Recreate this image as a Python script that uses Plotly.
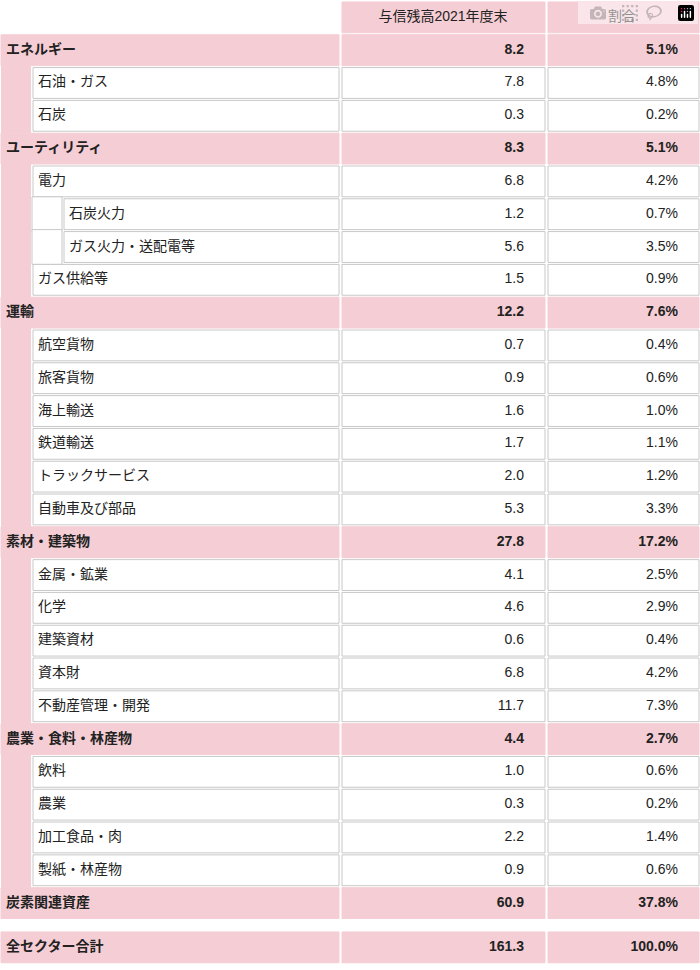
import plotly.graph_objects as go

# level 0 = sector (pink row), 1 = sub, 2 = sub-sub
labels = ["エネルギー", "石油・ガス", "石炭", "ユーティリティ", "電力", "石炭火力", "ガス火力・送配電等",
          "ガス供給等", "運輸", "航空貨物", "旅客貨物", "海上輸送", "鉄道輸送", "トラックサービス",
          "自動車及び部品", "素材・建築物", "金属・鉱業", "化学", "建築資材", "資本財", "不動産管理・開発",
          "農業・食料・林産物", "飲料", "農業", "加工食品・肉", "製紙・林産物", "炭素関連資産", "全セクター合計"]
levels = [0, 1, 1, 0, 1, 2, 2, 1, 0, 1, 1, 1, 1, 1, 1, 0, 1, 1, 1, 1, 1, 0, 1, 1, 1, 1, 0, 0]
amounts = [8.2, 7.8, 0.3, 8.3, 6.8, 1.2, 5.6, 1.5, 12.2, 0.7, 0.9, 1.6, 1.7, 2.0, 5.3, 27.8,
           4.1, 4.6, 0.6, 6.8, 11.7, 4.4, 1.0, 0.3, 2.2, 0.9, 60.9, 161.3]
shares = [5.1, 4.8, 0.2, 5.1, 4.2, 0.7, 3.5, 0.9, 7.6, 0.4, 0.6, 1.0, 1.1, 1.2, 3.3, 17.2,
          2.5, 2.9, 0.4, 4.2, 7.3, 2.7, 0.6, 0.2, 1.4, 0.6, 37.8, 100.0]
headers = ["与信残高2021年度末", "割合"]

PINK = "#f5cdd4"
GRID = "#c8c8c8"
ys = [i + 1 for i in range(len(labels) - 1)] + [28.35]

fig = go.Figure()
shapes = []

def cell(x0, x1, y, fill, line):
    shapes.append(dict(type="rect", x0=x0, x1=x1, y0=y - 0.47, y1=y + 0.47,
                       fillcolor=fill, line=dict(color=line, width=1), layer="below"))

# header
cell(342, 545, 0, PINK, PINK)
cell(548, 699, 0, PINK, PINK)

for lv, y in zip(levels, ys):
    if lv == 0:
        for x0, x1 in [(1, 339), (342, 545), (548, 699)]:
            cell(x0, x1, y, PINK, PINK)
    else:
        shapes.append(dict(type="rect", x0=1, x1=31, y0=y - 0.53, y1=y + 0.53,
                           fillcolor=PINK, line=dict(width=0), layer="below"))
        if lv == 2:
            shapes.append(dict(type="rect", x0=32, x1=62, y0=y - 0.53, y1=y + 0.53,
                               fillcolor="white", line=dict(color=GRID, width=1), layer="below"))
        x0 = 33 if lv == 1 else 64
        for a, b in [(x0, 339), (342, 545), (548, 699)]:
            cell(a, b, y, "white", GRID)

def fmt(s, lv):
    return f"<b>{s}</b>" if lv == 0 else s

label_x = [6 if lv == 0 else (38 if lv == 1 else 69) for lv in levels]
font = dict(family="Liberation Sans, Noto Sans CJK JP, sans-serif", size=14, color="#222")

fig.add_trace(go.Scatter(x=label_x, y=ys, mode="text", text=[fmt(l, lv) for l, lv in zip(labels, levels)],
                         textposition="middle right", textfont=font, hoverinfo="skip"))
fig.add_trace(go.Scatter(x=[524] * len(amounts), y=ys, mode="text",
                         text=[fmt(f"{v:.1f}", lv) for v, lv in zip(amounts, levels)],
                         textposition="middle left", textfont=font, hoverinfo="skip"))
fig.add_trace(go.Scatter(x=[678] * len(shares), y=ys, mode="text",
                         text=[fmt(f"{v:.1f}%", lv) for v, lv in zip(shares, levels)],
                         textposition="middle left", textfont=font, hoverinfo="skip"))
fig.add_trace(go.Scatter(x=[443, 622], y=[0, 0], mode="text", text=headers,
                         textposition="middle center", textfont=font, hoverinfo="skip"))

fig.update_layout(width=700, height=970, margin=dict(l=0, r=0, t=0, b=0),
                  plot_bgcolor="white", paper_bgcolor="white", showlegend=False, shapes=shapes,
                  xaxis=dict(range=[0, 700], visible=False, fixedrange=True),
                  yaxis=dict(range=[29.04, -0.53], visible=False, fixedrange=True))
fig.write_html("out.html", post_script="document.body.style.margin='0';")
